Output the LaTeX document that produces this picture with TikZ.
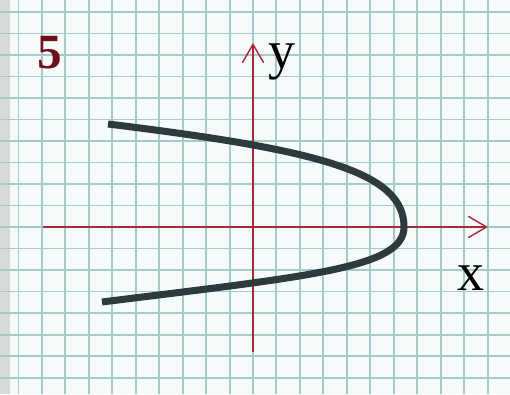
\documentclass[tikz,border=0pt]{standalone}
\usepackage{fontspec}
\setmainfont{Liberation Serif}
\usetikzlibrary{arrows.meta}
\definecolor{paper}{HTML}{F5FBFB}
\definecolor{gridteal}{HTML}{A6CBC7}
\definecolor{axisred}{HTML}{A8283A}
\definecolor{numred}{HTML}{6E0F1A}
\definecolor{curveink}{HTML}{2D3B3F}
\begin{document}
\begin{tikzpicture}[
  x=0.03cm, y=-0.03cm,
  gridline/.style={draw=gridteal, line width=1.7pt},
  axis/.style={draw=axisred, line width=1.4pt,
    -{Straight Barb[length=0.55cm, width=0.64cm, line width=1.2pt]}},
  axislabel/.style={font=\fontsize{46}{48}\selectfont, anchor=base, inner sep=0pt},
  curve/.style={draw=curveink, line width=6pt}
]
\useasboundingbox (0,0) rectangle (510,394);
\fill[paper] (0,0) rectangle (510,394);
\fill[gray!30] (0,0) rectangle (10,394);
% squared paper
\foreach \k in {-10,...,10}
  \draw[gridline] ({253+23.45*\k},0) -- ++(0,394);
\foreach \k in {-10,...,7}
  \draw[gridline] (0,{227+21.5*\k}) -- ++(510,0);
% axes
\coordinate (xstart) at (43,227);
\coordinate (xend) at (488,227);
\coordinate (ystart) at (253,352);
\coordinate (yend) at (253,43);
\draw[axis] (xstart) -- (xend);
\draw[axis] (ystart) -- (yend);
\node[axislabel] (xlab) at (471,290) {x};
\node[axislabel] (ylab) at (282,69) {y};
\node[font=\fontsize{42}{44}\selectfont\bfseries, text=numred, anchor=base, inner sep=0pt] (num) at (50,69) {5};
% parabola opening to the left
\coordinate (top) at (108,124);
\coordinate (vertex) at (404,227);
\coordinate (bottom) at (102,302);
\draw[curve] (top) .. controls (320,150) and (404,172) .. (vertex)
  .. controls (404,268) and (310,276) .. (bottom);
\end{tikzpicture}
\end{document}
